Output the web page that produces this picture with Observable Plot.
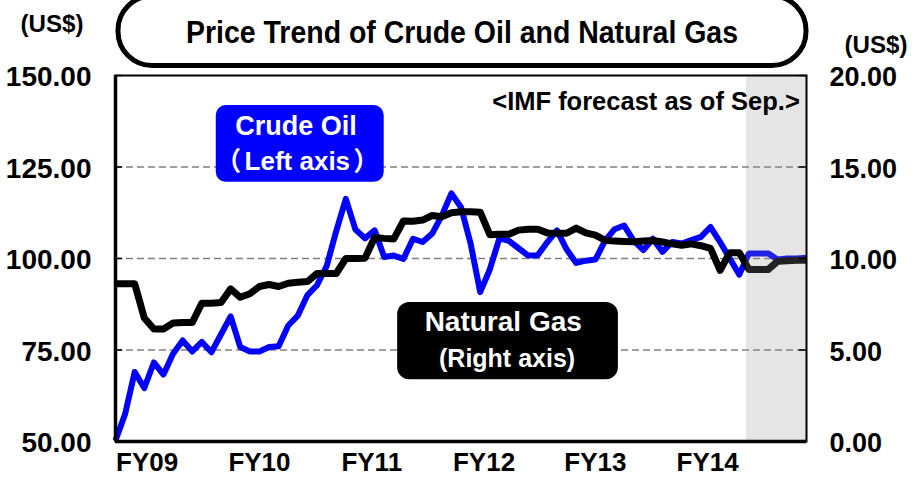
<!DOCTYPE html>
<html><head><meta charset="utf-8">
<script src="https://cdn.jsdelivr.net/npm/d3@7"></script>
<script src="https://cdn.jsdelivr.net/npm/@observablehq/plot@0.6"></script>
<style>
body{margin:0;background:#fff}
svg{font-family:"Liberation Sans",Arial,"Noto Sans CJK JP",sans-serif}
</style>
</head><body><div id="chart"></div>
<script>
// Month index 0 = April 2009 (FY09 start), 72 = April 2015
const months = d3.range(73);
// Crude oil price (US$, left axis)
const crudeOil = [
  50.3, 57.5, 69.0, 64.6, 71.6, 68.3, 74.0, 77.6, 74.6, 77.2, 74.4, 79.3,
  84.2, 75.8, 74.6, 74.6, 75.8, 76.0, 81.7, 84.4, 90.0, 92.7, 97.9, 107.5,
  116.3, 107.9, 105.5, 107.7, 100.4, 100.8, 99.9, 105.4, 104.5, 106.8, 111.7, 117.8,
  114.0, 104.1, 90.8, 97.0, 105.5, 104.8, 102.8, 100.8, 100.9, 104.5, 107.7, 102.5,
  98.8, 99.4, 99.7, 104.8, 108.0, 109.0, 104.8, 102.3, 105.4, 101.8, 104.5, 104.1,
  105.0, 105.9, 108.6, 104.5, 100.0, 95.6, 101.4, 101.4, 101.4, 99.7, 100.0, 100.0,
  100.2
];
// Natural gas price (US$, right axis)
const naturalGas = [
  8.62, 8.62, 8.62, 6.75, 6.15, 6.15, 6.47, 6.50, 6.50, 7.56, 7.56, 7.60,
  8.34, 7.88, 8.07, 8.47, 8.58, 8.47, 8.65, 8.70, 8.74, 9.18, 9.18, 9.18,
  10.00, 10.00, 10.02, 11.15, 11.10, 11.07, 12.05, 12.04, 12.10, 12.35, 12.28, 12.50,
  12.55, 12.55, 12.53, 11.30, 11.33, 11.33, 11.55, 11.60, 11.60, 11.40, 11.38, 11.38,
  11.66, 11.40, 11.28, 11.00, 10.95, 10.93, 10.92, 10.95, 10.98, 10.90, 10.80, 10.72,
  10.80, 10.70, 10.55, 9.35, 10.32, 10.32, 9.40, 9.40, 9.40, 9.85, 9.88, 9.90,
  9.90
];
const fyLabels = ["FY09", "FY10", "FY11", "FY12", "FY13", "FY14"];
const fyLabelPos = [3.3, 15.0, 26.7, 38.4, 50.0, 61.7];
const leftTicks = [50, 75, 100, 125, 150];
const rightTicks = [0, 5, 10, 15, 20];
const gridValues = [75, 100, 125];
const forecastRange = [65.75, 72];

const toLeft = v => 50 + v * 5;       // right axis 0..20 -> left axis 50..150
const fmt = d3.format(".2f");

const oilData = months.map((m, i) => ({m, v: crudeOil[i]}));
const gasData = months.map((m, i) => ({m, v: toLeft(naturalGas[i])}));

const FONT = '"Liberation Sans",Arial,"Noto Sans CJK JP",sans-serif';

const plot = Plot.plot({
  width: 914, height: 477,
  marginLeft: 115, marginRight: 108, marginTop: 75, marginBottom: 36,
  x: {domain: [0, 72], axis: null},
  y: {domain: [50, 150], axis: null},
  style: {fontFamily: FONT, fontWeight: "bold", color: "#000", background: "#fff", overflow: "visible"},
  marks: [
    Plot.ruleY(gridValues, {stroke: "#808080", strokeWidth: 1.6, strokeDasharray: "7,4"}),
    Plot.lineY(oilData, {x: "m", y: "v", stroke: "#0000ff", strokeWidth: 6, strokeLinejoin: "round", strokeLinecap: "butt"}),
    Plot.lineY(gasData, {x: "m", y: "v", stroke: "#000", strokeWidth: 7, strokeLinejoin: "round", strokeLinecap: "butt"}),
    Plot.rect([forecastRange], {x1: d => d[0], x2: d => d[1], y1: 50, y2: 150, fill: "rgb(145,145,145)", fillOpacity: 0.235}),
    Plot.frame({stroke: "#000", strokeWidth: 2}),
    Plot.ruleX([0], {stroke: "#000", strokeWidth: 3.5}),
    Plot.ruleY([50], {stroke: "#000", strokeWidth: 3.5}),
    Plot.ruleY(leftTicks, {x1: 0, x2: 0.75, stroke: "#000", strokeWidth: 1.5}),
    Plot.ruleY(leftTicks, {x1: 71.25, x2: 72, stroke: "#000", strokeWidth: 1.5}),
    // left axis labels
    Plot.text(leftTicks, {x: 0, y: d => d, text: d => fmt(d), textAnchor: "end", dx: -24, dy: 2, fontSize: 28, fontWeight: "bold", fill: "#000"}),
    // right axis labels
    Plot.text(rightTicks, {x: 72, y: d => toLeft(d), text: d => fmt(d), textAnchor: "start", dx: 23, dy: 2, fontSize: 27, fontWeight: "bold", fill: "#000"}),
    // x labels
    Plot.text(fyLabels, {x: (d, i) => fyLabelPos[i], y: 50, text: d => d, dy: 21, fontSize: 26, fontWeight: "bold", fill: "#000"}),
    // forecast note
    Plot.text(["<IMF forecast as of Sep.>"], {x: 71.3, y: 142.9, text: d => d, textAnchor: "end", fontSize: 25.5, fontWeight: "bold", fill: "#000"}),
    // legend boxes
    Plot.rect([{x1: 10.5, x2: 28.0, y1: 120.8, y2: 141.8}], {x1: "x1", x2: "x2", y1: "y1", y2: "y2", fill: "#0000ff", rx: 10}),
    Plot.text(["Crude Oil"], {x: 18.8, y: 136.2, text: d => d, fill: "#fff", fontSize: 27, fontWeight: "bold"}),
    Plot.rect([{x1: 29.4, x2: 52.4, y1: 66.9, y2: 88.0}], {x1: "x1", x2: "x2", y1: "y1", y2: "y2", fill: "#000", rx: 12}),
    Plot.text(["Natural Gas"], {x: 40.4, y: 82.6, text: d => d, fill: "#fff", fontSize: 28, fontWeight: "bold"}),
    Plot.text(["(Right axis)"], {x: 40.8, y: 72.5, text: d => d, fill: "#fff", fontSize: 25, fontWeight: "bold"})
  ]
});

const svg = d3.select(plot);
const sx = plot.scale("x"), sy = plot.scale("y");
// Crude oil legend sub-label with full-width parentheses
const cx = sx.apply(19.0), cy = sy.apply(126.4);
const sub = svg.append("text").attr("y", cy).attr("dy", "0.35em")
  .attr("font-size", 26).attr("font-weight", "bold").attr("fill", "#fff");
sub.append("tspan").attr("x", cx - 82).attr("text-anchor", "start").text("（");
sub.append("tspan").attr("x", cx).attr("text-anchor", "middle").text("Left axis");
sub.append("tspan").attr("x", cx + 56).attr("text-anchor", "start").text("）");
// Title box
svg.append("rect").attr("x", 118).attr("y", -4).attr("width", 688).attr("height", 69.5)
  .attr("rx", 34).attr("fill", "#fff").attr("stroke", "#000").attr("stroke-width", 5);
svg.append("text").attr("x", 462).attr("y", 43).attr("text-anchor", "middle")
  .attr("font-size", 31).attr("font-weight", "bold").attr("fill", "#000")
  .attr("textLength", 552).attr("lengthAdjust", "spacingAndGlyphs")
  .text("Price Trend of Crude Oil and Natural Gas");
// Unit labels
svg.append("text").attr("x", 52).attr("y", 32).attr("text-anchor", "middle")
  .attr("font-size", 24).attr("font-weight", "bold").attr("fill", "#000")
  .attr("textLength", 63).attr("lengthAdjust", "spacingAndGlyphs").text("(US$)");
svg.append("text").attr("x", 876).attr("y", 53).attr("text-anchor", "middle")
  .attr("font-size", 24).attr("font-weight", "bold").attr("fill", "#000")
  .attr("textLength", 63).attr("lengthAdjust", "spacingAndGlyphs").text("(US$)");

document.getElementById("chart").appendChild(plot);
</script>
</body></html>
